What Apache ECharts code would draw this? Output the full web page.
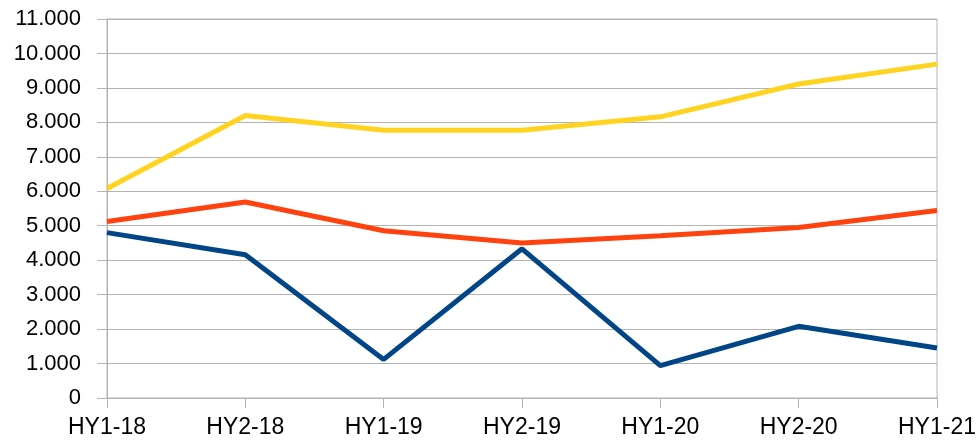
<!DOCTYPE html>
<html>
<head>
<meta charset="utf-8">
<script src="https://cdn.jsdelivr.net/npm/echarts@6/dist/echarts.min.js"></script>
<style>
  html, body { margin: 0; padding: 0; background: #fff; }
  #chart { width: 979px; height: 448px; }
</style>
</head>
<body>
<div id="chart"></div>
<script>
// half-year periods
var categories = ["HY1-18", "HY2-18", "HY1-19", "HY2-19", "HY1-20", "HY2-20", "HY1-21"];

// values
var blueValues = [4800, 4160, 1120, 4330, 940, 2080, 1450];
var redValues = [5120, 5690, 4855, 4500, 4710, 4950, 5440];
var yellowValues = [6080, 8200, 7770, 7770, 8160, 9115, 9690];

var chart = echarts.init(document.getElementById("chart"));

function fmt(v) {
  // 11000 -> "11.000"
  return String(v).replace(/\B(?=(\d{3})+(?!\d))/g, ".");
}

var font = "Liberation Sans";

function lineSeries(data, color) {
  return {
    type: "line",
    data: data,
    symbol: "none",
    lineStyle: { color: color, width: 5 },
    itemStyle: { color: color },
  };
}

chart.setOption({
  animation: false,
  grid: {
    left: 107,
    right: 42,
    top: 19,
    bottom: 50,
    show: true,
    borderColor: "#b3b3b3",
    borderWidth: 1,
  },
  xAxis: {
    type: "category",
    data: categories,
    boundaryGap: false,
    axisLine: { lineStyle: { color: "#b3b3b3", width: 1 } },
    axisTick: { show: true, length: 10, lineStyle: { color: "#b3b3b3" } },
    axisLabel: {
      color: "#000",
      fontSize: 23,
      fontFamily: font,
      margin: 18,
      interval: 0,
      showMinLabel: true,
      showMaxLabel: true,
    },
    splitLine: { show: false },
  },
  yAxis: {
    type: "value",
    min: 0,
    max: 11000,
    interval: 1000,
    axisLine: { show: true, lineStyle: { color: "#b3b3b3", width: 1 } },
    axisTick: { show: true, length: 10, lineStyle: { color: "#b3b3b3" } },
    axisLabel: {
      color: "#000",
      fontSize: 22,
      fontFamily: font,
      margin: 26,
      formatter: fmt,
    },
    splitLine: { show: true, lineStyle: { color: "#b3b3b3", width: 1 } },
  },
  series: [
    lineSeries(blueValues, "#004586"),
    lineSeries(redValues, "#ff420e"),
    lineSeries(yellowValues, "#ffd320"),
  ],
});
</script>
</body>
</html>
